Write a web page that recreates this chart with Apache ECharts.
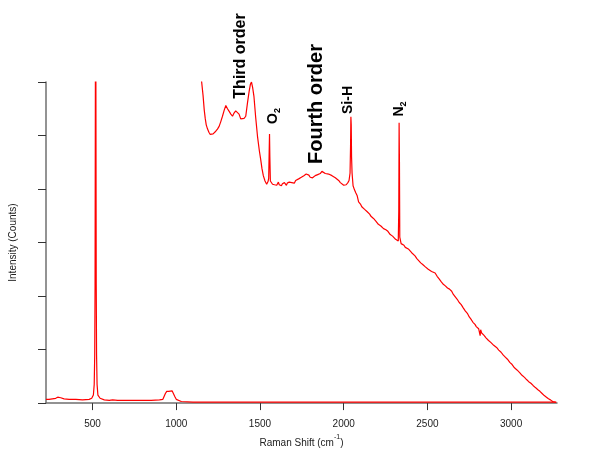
<!DOCTYPE html>
<html>
<head>
<meta charset="utf-8">
<script src="https://cdn.jsdelivr.net/npm/echarts@6/dist/echarts.min.js"></script>
<style>
html,body{margin:0;padding:0;background:#fff;}
#chart{width:595px;height:453px;}
</style>
</head>
<body>
<div id="chart"></div>
<script>
// X tick labels (cm^-1)
const xTicks = [500, 1000, 1500, 2000, 2500, 3000];
const yTicks = [0, 1, 2, 3, 4, 5, 6];

// Full spectrum (Raman shift, intensity in arbitrary axis units)
const fullShift = [222,240,260,280,292,300,310,330,360,400,440,480,495,505,510,513,515,517,518,520,522,524,527,532,545,570,600,620,650,700,750,800,850,900,920,928,935,943,955,965,975,985,992,1000,1010,1030,1100,1500,2000,2500,3000,3270];
const fullIntensity = [0.07,0.07,0.08,0.09,0.11,0.12,0.10,0.08,0.07,0.07,0.06,0.07,0.09,0.15,0.35,0.9,2.2,6,9,6,2.2,0.9,0.35,0.15,0.09,0.06,0.05,0.06,0.05,0.05,0.05,0.05,0.05,0.06,0.07,0.10,0.18,0.22,0.22,0.23,0.23,0.21,0.12,0.07,0.04,0.03,0.02,0.02,0.02,0.02,0.02,0.02];

// Magnified spectrum (higher orders)
const zoomShift = [1150,1160,1167,1173,1179,1187,1195,1203,1211,1220,1228,1236,1246,1256,1266,1276,1286,1296,1306,1316,1326,1336,1345,1355,1365,1375,1385,1395,1405,1415,1425,1435,1443,1449,1456,1464,1474,1485,1496,1504,1512,1520,1530,1540,1548,1552,1555,1557,1559,1562,1568,1575,1580,1587,1593,1600,1605,1610,1615,1622,1628,1634,1640,1646,1652,1658,1663,1670,1675,1682,1690,1697,1705,1713,1723,1731,1740,1747,1755,1762,1770,1776,1782,1787,1792,1796,1800,1805,1810,1814,1818,1824,1830,1838,1845,1852,1860,1870,1881,1890,1900,1910,1920,1930,1940,1950,1960,1970,1980,1990,2000,2008,2015,2025,2032,2038,2041,2043,2045,2047,2050,2056,2065,2072,2080,2089,2100,2108,2115,2125,2132,2139,2147,2155,2163,2170,2178,2185,2192,2199,2207,2215,2222,2230,2238,2245,2252,2258,2264,2270,2278,2285,2292,2300,2310,2316,2320,2326,2329,2331,2333,2335,2343,2352,2360,2368,2375,2386,2397,2406,2415,2426,2437,2448,2460,2472,2486,2495,2505,2515,2525,2535,2546,2558,2570,2582,2595,2607,2620,2632,2645,2655,2665,2678,2690,2702,2714,2727,2740,2750,2760,2772,2784,2792,2800,2806,2812,2815,2818,2824,2837,2850,2865,2880,2896,2913,2926,2940,2952,2965,2978,2992,3006,3020,3035,3051,3065,3080,3092,3105,3118,3131,3145,3160,3172,3185,3198,3211,3223,3235,3248,3260,3268];
const zoomIntensity = [6.05,5.75,5.48,5.32,5.20,5.12,5.06,5.02,5.00,5.03,5.05,5.08,5.12,5.17,5.26,5.36,5.47,5.56,5.50,5.45,5.40,5.36,5.42,5.46,5.48,5.40,5.31,5.28,5.32,5.36,5.60,5.82,5.96,6.00,5.90,5.73,5.35,4.99,4.72,4.56,4.38,4.25,4.15,4.09,4.14,4.20,4.70,5.03,4.60,4.15,4.12,4.09,4.12,4.08,4.11,4.07,4.10,4.13,4.08,4.11,4.06,4.10,4.08,4.12,4.09,4.07,4.11,4.09,4.13,4.10,4.12,4.15,4.11,4.16,4.15,4.19,4.17,4.22,4.20,4.25,4.24,4.28,4.31,4.27,4.26,4.23,4.22,4.20,4.19,4.21,4.20,4.24,4.25,4.28,4.27,4.30,4.29,4.33,4.31,4.29,4.31,4.28,4.28,4.25,4.25,4.21,4.19,4.16,4.12,4.10,4.07,4.09,4.08,4.12,4.16,4.30,4.80,5.35,5.20,4.60,4.30,4.06,3.98,3.93,3.88,3.76,3.72,3.67,3.66,3.62,3.61,3.58,3.55,3.53,3.49,3.47,3.45,3.42,3.40,3.38,3.34,3.33,3.31,3.30,3.26,3.27,3.24,3.23,3.21,3.19,3.15,3.14,3.12,3.10,3.06,3.07,3.04,3.03,3.60,5.24,4.50,3.10,2.98,2.96,2.95,2.91,2.92,2.88,2.86,2.81,2.78,2.75,2.70,2.67,2.62,2.59,2.55,2.53,2.50,2.48,2.46,2.45,2.43,2.37,2.32,2.27,2.22,2.19,2.15,2.13,2.09,2.03,2.00,1.94,1.88,1.84,1.78,1.72,1.67,1.61,1.57,1.51,1.47,1.43,1.40,1.39,1.36,1.26,1.37,1.31,1.27,1.22,1.17,1.13,1.08,1.04,0.99,0.95,0.90,0.86,0.82,0.76,0.72,0.66,0.62,0.57,0.52,0.48,0.44,0.40,0.37,0.33,0.29,0.25,0.22,0.18,0.14,0.11,0.08,0.06,0.03,0.02,0.01];

const FONT = '"Liberation Sans", Arial, Helvetica, sans-serif';

const chart = echarts.init(document.getElementById('chart'), null, {renderer: 'canvas'});

const pair = (xs, ys) => xs.map((x, i) => [x, ys[i]]);

chart.setOption({
  animation: false,
  backgroundColor: '#ffffff',
  grid: {left: 45, right: 38, top: 82, bottom: 47, containLabel: false},
  xAxis: {
    type: 'value',
    min: 222,
    max: 3274,
    name: '{a|Raman Shift (cm}{b|-1}{a|)}',
    nameLocation: 'middle',
    nameGap: 30,
    nameTextStyle: {
      rich: {
        a: {fontFamily: FONT, fontSize: 10, color: '#222', lineHeight: 14, verticalAlign: 'bottom'},
        b: {fontFamily: FONT, fontSize: 7, color: '#222', lineHeight: 14, verticalAlign: 'top'}
      }
    },
    axisLine: {show: true, lineStyle: {color: '#6f6f6f', width: 1.5}},
    axisTick: {show: true, length: 7, inside: false, customValues: xTicks, lineStyle: {color: '#333', width: 1}},
    axisLabel: {show: true, customValues: xTicks, margin: 16, fontFamily: FONT, fontSize: 10, color: '#222',
      formatter: v => String(Math.round(v))},
    splitLine: {show: false},
    minorTick: {show: false}
  },
  yAxis: {
    type: 'value',
    min: 0,
    max: 6,
    interval: 1,
    name: 'Intensity (Counts)',
    nameLocation: 'middle',
    nameGap: 28,
    nameTextStyle: {fontFamily: FONT, fontSize: 10, color: '#222'},
    axisLine: {show: true, lineStyle: {color: '#6f6f6f', width: 1.5}},
    axisTick: {show: true, length: 8, inside: false, lineStyle: {color: '#333', width: 1}},
    axisLabel: {show: false},
    splitLine: {show: false}
  },
  series: [
    {
      name: 'full',
      type: 'line',
      data: pair(fullShift, fullIntensity),
      showSymbol: false,
      symbol: 'none',
      clip: true,
      lineStyle: {color: '#ff0000', width: 1.2},
      z: 3
    },
    {
      name: 'magnified',
      type: 'line',
      data: pair(zoomShift, zoomIntensity),
      showSymbol: false,
      symbol: 'none',
      clip: true,
      lineStyle: {color: '#ff0000', width: 1.2},
      z: 4
    }
  ],
  graphic: [
    {type: 'text', x: 240.5, y: 56, rotation: Math.PI / 2,
      style: {text: 'Third order', font: 'bold 16px ' + FONT, fill: '#000', align: 'center', verticalAlign: 'middle', textAlign: 'center', textVerticalAlign: 'middle'}},
    {type: 'text', x: 316, y: 104, rotation: Math.PI / 2,
      style: {text: 'Fourth order', font: 'bold 20px ' + FONT, fill: '#000', align: 'center', verticalAlign: 'middle', textAlign: 'center', textVerticalAlign: 'middle'}},
    {type: 'text', x: 273, y: 116, rotation: Math.PI / 2,
      style: {text: '{m|O}{s|2}', fill: '#000', align: 'center', verticalAlign: 'middle', textAlign: 'center', textVerticalAlign: 'middle',
        rich: {m: {font: 'bold 14px ' + FONT, fill: '#000', lineHeight: 18}, s: {font: 'bold 9px ' + FONT, fill: '#000', verticalAlign: 'bottom'}}}},
    {type: 'text', x: 348.5, y: 100, rotation: Math.PI / 2,
      style: {text: 'Si-H', font: 'bold 14px ' + FONT, fill: '#000', align: 'center', verticalAlign: 'middle', textAlign: 'center', textVerticalAlign: 'middle'}},
    {type: 'text', x: 399, y: 109, rotation: Math.PI / 2,
      style: {text: '{m|N}{s|2}', fill: '#000', align: 'center', verticalAlign: 'middle', textAlign: 'center', textVerticalAlign: 'middle',
        rich: {m: {font: 'bold 14px ' + FONT, fill: '#000', lineHeight: 18}, s: {font: 'bold 9px ' + FONT, fill: '#000', verticalAlign: 'bottom'}}}}
  ]
});
</script>
</body>
</html>
